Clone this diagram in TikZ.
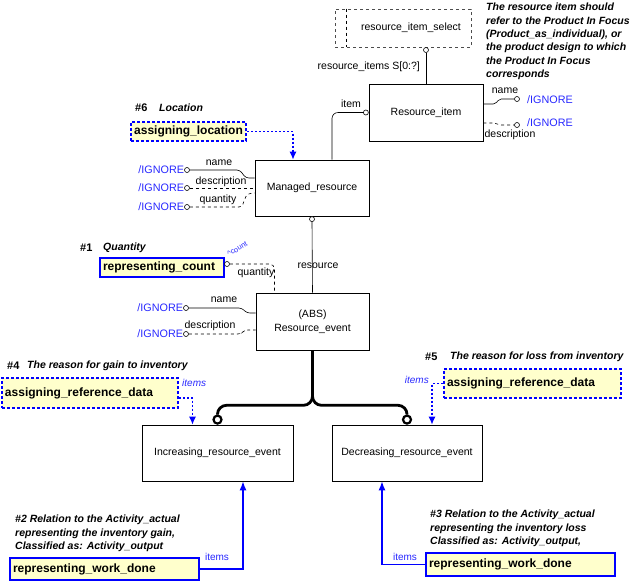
\documentclass[tikz,border=0pt]{standalone}
\usepackage{fontspec}
\setmainfont{Liberation Sans}
\usetikzlibrary{arrows.meta}
\definecolor{ignblue}{RGB}{40,40,255}
\definecolor{bbl}{RGB}{0,0,255}
\definecolor{yfill}{RGB}{255,255,204}
\begin{document}
\begin{tikzpicture}[x=1pt,y=-1pt,
  ent/.style={draw, line width=0.6pt, fill=white, font=\fontsize{10.5}{13}\selectfont, inner sep=0pt, align=center},
  att/.style={draw, circle, inner sep=0pt, minimum size=5pt, fill=white, line width=0.6pt},
  bigatt/.style={draw, circle, inner sep=0pt, minimum size=8pt, fill=white, line width=2.2pt},
  ign/.style={text=ignblue, font=\fontsize{10.8}{13}\selectfont, inner sep=0pt},
  lbl/.style={font=\fontsize{10.5}{12}\selectfont, inner sep=0pt},
  note/.style={font=\fontsize{10.5}{13.3}\selectfont\bfseries\itshape, align=left, inner sep=0pt, anchor=north west},
  hash/.style={font=\fontsize{11}{13}\selectfont\bfseries, inner sep=0pt},
  ybox/.style={fill=yfill, font=\fontsize{12}{14}\selectfont\bfseries, inner xsep=3pt, inner ysep=0pt, align=left},
  ydash/.style={ybox, draw=bbl, line width=2pt, dash pattern=on 3pt off 2pt},
  ysolid/.style={ybox, draw=bbl, line width=2pt},
  conn/.style={line width=0.6pt},
  bluedot/.style={draw=bbl, line width=1.3pt, dash pattern=on 2pt off 2pt, -{Latex[length=8pt,width=7pt,fill=bbl]}},
  bluesolid/.style={draw=bbl, line width=1.5pt, -{Latex[length=9pt,width=7pt,fill=bbl]}},
  thickl/.style={line width=2.8pt, rounded corners=9pt},
]
\useasboundingbox (0,0) rectangle (635,582);

% ---------- entities ----------
\node[ent, draw=black!70, dashed, minimum width=136pt, minimum height=38pt] (sel) at (403,28) {};
\draw[dashed, line width=0.6pt] ([xshift=12pt]sel.north west) -- ([xshift=12pt]sel.south west);
\node[lbl] (selt) at (411,28) {resource\_item\_select};
\node[ent, minimum width=114pt, minimum height=57pt] (ri) at (426,112.5) {Resource\_item};
\node[ent, minimum width=114pt, minimum height=56pt] (mr) at (312,188) {Managed\_resource};
\node[ent, minimum width=113pt, minimum height=57pt] (re) at (312.5,321.5) {(ABS)\\[1pt]Resource\_event};
\node[ent, minimum width=151pt, minimum height=56pt] (inc) at (217.5,453) {Increasing\_resource\_event};
\node[ent, minimum width=150pt, minimum height=56pt] (dec) at (407,453) {Decreasing\_resource\_event};

% ---------- select -> resource_item ----------
\node[att] (selc) at (426,50) {};
\draw[conn] (selc.south) -- (ri.north);
\node[lbl, anchor=east] (selitems) at (420,67) {resource\_items S[0:?]};

% ---------- resource_item attributes ----------
\node[att] (rin) at (517,99) {};
\node[att] (rid) at (517,125) {};
\draw[conn, rounded corners=2pt] ([yshift=8.5pt]ri.east) -- ++(12,0) -- ++(4,-5) -- (rin.west);
\draw[conn, dashed, rounded corners=2pt] ([yshift=-10.5pt]ri.east) -- ++(12,0) -- ++(4,2) -- (rid.west);
\node[lbl] (rinl) at (505,91) {name};
\node[lbl] (ridl) at (510,135) {description};
\node[ign, anchor=west] (rini) at (527,100) {/IGNORE};
\node[ign, anchor=west] (ridi) at (527,123) {/IGNORE};

% item
\node[att, anchor=east] (riitem) at (ri.west) {};
\draw[conn, rounded corners=6pt] (riitem.west) -| ([xshift=20pt]mr.north);
\node[lbl] (riiteml) at (351,104) {item};

% ---------- note top right ----------
\node[note] (n0) at (486,3) {The resource item should\\refer to the Product In Focus\\(Product\_as\_individual), or\\the product design to which\\the Product In Focus\\corresponds};

% ---------- #6 location ----------
\node[hash, anchor=west] (h6) at (135,108) {\#6};
\node[note, anchor=west] (h6t) at (159,108) {Location};
\node[ydash, minimum width=115pt, minimum height=19pt] (al) at (188.5,131.5) {assigning\_location};
\draw[bluedot] (al.east) -| ([xshift=-19pt]mr.north);

% ---------- managed_resource attributes ----------
\node[att] (mrn) at (187,170) {};
\node[att] (mrd) at (187,188) {};
\node[att] (mrq) at (187,207) {};
\node[ign, anchor=east] (mrni) at (mrn.west) {/IGNORE};
\node[ign, anchor=east] (mrdi) at (mrd.west) {/IGNORE};
\node[ign, anchor=east] (mrqi) at (mrq.west) {/IGNORE};
\draw[conn, rounded corners=3pt] (mrn.east) -- ++(50,0) -- ++(6,8) -- ([yshift=10pt]mr.west);
\draw[conn, dashed] (mrd.east) -- (mr.west);
\draw[conn, dashed, rounded corners=3pt] (mrq.east) -- ++(52,0) -- ++(5,-13) -- ([yshift=-5pt]mr.west);
\node[lbl] (mrnl) at (219,163) {name};
\node[lbl] (mrdl) at (221,182) {description};
\node[lbl] (mrql) at (218,200) {quantity};

% resource
\node[att, anchor=north] (mrres) at (mr.south) {};
\draw[conn] (mrres.south) -- (re.north);
\node[lbl] (resl) at (318,266) {resource};

% ---------- #1 quantity ----------
\node[hash, anchor=west] (h1) at (80,248) {\#1};
\node[note, anchor=west] (h1t) at (103,248) {Quantity};
\node[ysolid, minimum width=124pt, text width=118pt, minimum height=19pt] (rc) at (162,267.5) {representing\_count};
\node[att] (rccnt) at (227,264) {};
\node[text=ignblue, font=\fontsize{7.5}{9}\selectfont, inner sep=0pt, rotate=30, anchor=south west] (cntl) at (229,257) {\textasciicircum count};
\draw[conn, dashed, rounded corners=5pt] (rccnt.east) -| ([xshift=-38pt]re.north);
\node[lbl] (rcql) at (256,273) {quantity};

% ---------- resource_event attributes ----------
\node[att] (ren) at (186,308) {};
\node[att] (red) at (186,334) {};
\node[ign, anchor=east] (reni) at (ren.west) {/IGNORE};
\node[ign, anchor=east] (redi) at (red.west) {/IGNORE};
\draw[conn, rounded corners=3pt] (ren.east) -- ++(53,0) -- ++(5,5) -- ([yshift=8.5pt]re.west);
\draw[conn, dashed, rounded corners=3pt] (red.east) -- ++(52,0) -- ++(4,-4) -- ([yshift=-8.5pt]re.west);
\node[lbl] (renl) at (224,300) {name};
\node[lbl] (redl) at (210,326) {description};

% ---------- subtypes ----------
\node[bigatt, anchor=south] (incc) at (inc.north) {};
\node[bigatt, anchor=south] (decc) at (dec.north) {};
\draw[thickl] (re.south) -- ++(0,55) -| (incc.north);
\draw[thickl] (re.south) -- ++(0,55) -| (decc.north);

% ---------- #4 ----------
\node[hash, anchor=west] (h4) at (7,366) {\#4};
\node[note, anchor=west] (h4t) at (27,366) {The reason for gain to inventory};
\node[ydash, minimum width=176pt, text width=170pt, minimum height=30pt] (ard1) at (90,393) {assigning\_reference\_data};
\draw[bluedot] ([yshift=-5pt]ard1.east) -| ([xshift=-25pt]inc.north);
\node[text=ignblue, font=\fontsize{10}{12}\selectfont\itshape, inner sep=0pt, anchor=west] (it4) at (182,383) {items};

% ---------- #5 ----------
\node[hash, anchor=west] (h5) at (425,357) {\#5};
\node[note, anchor=west] (h5t) at (450,357) {The reason for loss from inventory};
\node[ydash, minimum width=177pt, text width=171pt, minimum height=29pt] (ard2) at (532.5,383.5) {assigning\_reference\_data};
\draw[bluedot] (ard2.west) -| ([xshift=25pt]dec.north);
\node[text=ignblue, font=\fontsize{10}{12}\selectfont\itshape, inner sep=0pt, anchor=east] (it5) at (429,380) {items};

% ---------- #2 ----------
\node[note] (n2) at (15,515) {\#2 Relation to the Activity\_actual\\representing the inventory gain,\\Classified as: Activity\_output};
\node[ysolid, minimum width=189pt, text width=183pt, minimum height=22pt] (rwd1) at (104.5,569) {representing\_work\_done};
\draw[bluesolid] (rwd1.east) -| ([xshift=25.5pt]inc.south);
\node[text=ignblue, font=\fontsize{10}{12}\selectfont, inner sep=0pt] (it2) at (217,557) {items};

% ---------- #3 ----------
\node[note] (n3) at (430,510) {\#3 Relation to the Activity\_actual\\representing the inventory loss\\Classified as: Activity\_output,};
\node[ysolid, minimum width=189pt, text width=183pt, minimum height=23pt] (rwd2) at (520.5,564.5) {representing\_work\_done};
\draw[bluesolid] (rwd2.west) -| ([xshift=-25pt]dec.south);
\node[text=ignblue, font=\fontsize{10}{12}\selectfont, inner sep=0pt] (it3) at (405,557) {items};
\end{tikzpicture}
\end{document}
